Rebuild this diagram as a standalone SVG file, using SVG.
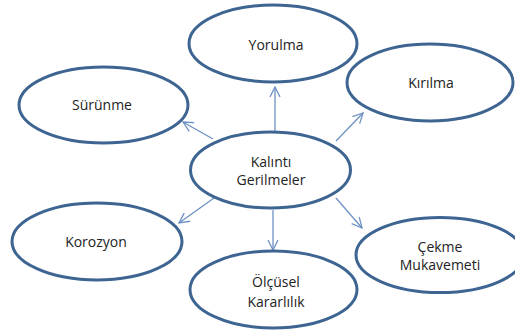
<svg xmlns="http://www.w3.org/2000/svg" width="515" height="334" viewBox="0 0 515 334">
<defs>
<style>
.n{fill:#fff;stroke:#3e6592;stroke-width:3}
.t{font-family:"Open Sans","Liberation Sans",sans-serif;font-size:14px;fill:#222;text-anchor:middle}
.c{stroke:#6d91c3;stroke-width:1.3;fill:none;marker-end:url(#a)}
</style>
<marker id="a" viewBox="0 0 12 12" refX="11" refY="6" markerWidth="12" markerHeight="12" markerUnits="userSpaceOnUse" orient="auto">
<path d="M1 1 L11 6 L1 11" fill="none" stroke="#6d91c3" stroke-width="1.3"/>
</marker>
</defs>
<rect width="515" height="334" fill="#fff"/>
<g id="connectors">
<line class="c" x1="275" y1="131" x2="275" y2="87"/>
<line class="c" x1="273" y1="210" x2="273" y2="250"/>
<line class="c" x1="213" y1="139" x2="183" y2="122"/>
<line class="c" x1="336" y1="141" x2="363" y2="113"/>
<line class="c" x1="214" y1="198" x2="179" y2="223"/>
<line class="c" x1="336" y1="198" x2="362" y2="228"/>
</g>
<g id="center">
<ellipse class="n" cx="270.5" cy="170" rx="80" ry="38"/>
<text class="t" x="271" y="167">Kalıntı</text>
<text class="t" x="271" y="185">Gerilmeler</text>
</g>
<g id="yorulma">
<ellipse class="n" cx="273" cy="43.5" rx="84" ry="38.5"/>
<text class="t" x="276" y="50">Yorulma</text>
</g>
<g id="surunme">
<ellipse class="n" cx="103.5" cy="105" rx="84.5" ry="38"/>
<text class="t" x="102" y="110">Sürünme</text>
</g>
<g id="kirilma">
<ellipse class="n" cx="430" cy="82.5" rx="83" ry="38.5"/>
<text class="t" x="431" y="88">Kırılma</text>
</g>
<g id="korozyon">
<ellipse class="n" cx="97" cy="241.5" rx="85" ry="38.5"/>
<text class="t" x="96" y="247">Korozyon</text>
</g>
<g id="olcusel">
<ellipse class="n" cx="273.5" cy="289.5" rx="83.5" ry="38.5"/>
<text class="t" x="276" y="287">Ölçüsel</text>
<text class="t" x="276" y="307">Kararlılık</text>
</g>
<g id="cekme">
<ellipse class="n" cx="440" cy="255" rx="84" ry="37.5"/>
<text class="t" x="440" y="252">Çekme</text>
<text class="t" x="440" y="270">Mukavemeti</text>
</g>
</svg>
